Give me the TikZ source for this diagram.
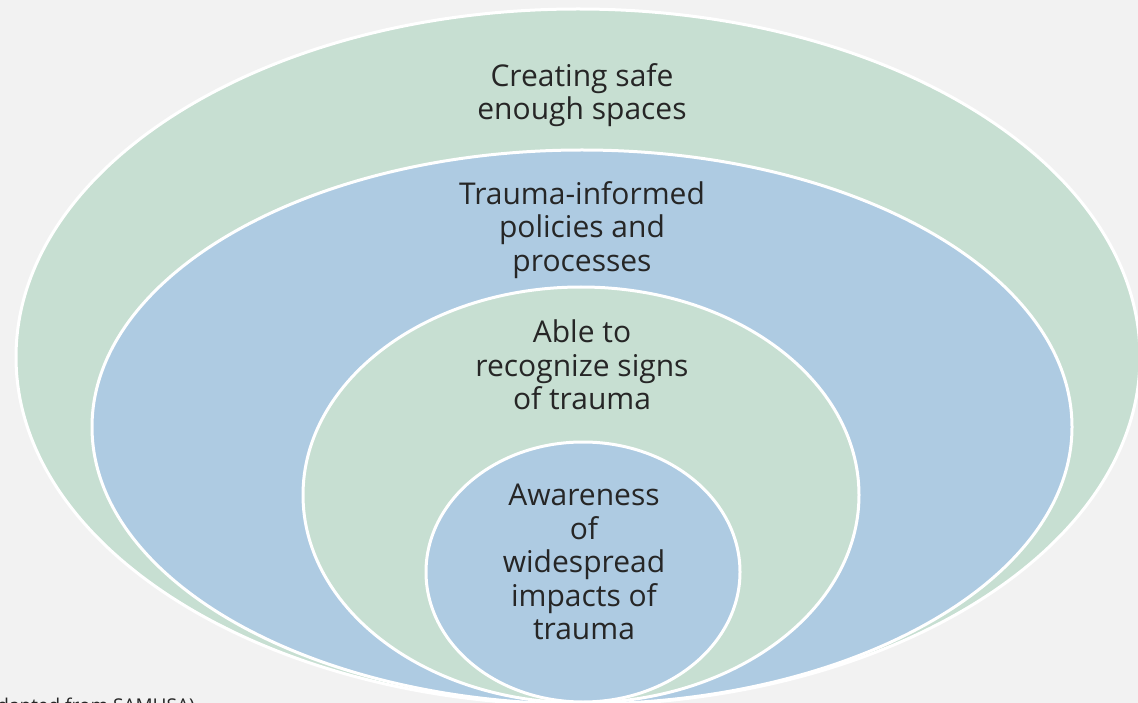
\documentclass[tikz,border=0pt]{standalone}
\usepackage{fontspec}
\setmainfont{Open Sans}
\definecolor{bgGray}{HTML}{F2F2F2}
\definecolor{ringGreen}{HTML}{C7DFD2}
\definecolor{ringBlue}{HTML}{AECBE2}
\begin{document}
\begin{tikzpicture}[x=1pt,y=-1pt,
  ring/.style={draw=white,line width=3pt},
  ringtext/.style={align=center,inner sep=0pt,text=black!85,
    font=\fontsize{30}{33.5}\selectfont}]
\clip (0,0) rectangle (1138,703);
\fill[bgGray] (0,0) rectangle (1138,703);
\coordinate (O1) at (578,357);
\coordinate (O2) at (582,427);
\coordinate (O3) at (581,495);
\coordinate (O4) at (583,572);
\draw [ring,fill=ringGreen] (O1) ellipse [x radius=562, y radius=348];
\draw [ring,fill=ringBlue] (O2) ellipse [x radius=490, y radius=277];
\draw [ring,fill=ringGreen] (O3) ellipse [x radius=278, y radius=208];
\draw [ring,fill=ringBlue] (O4) ellipse [x radius=157, y radius=130];
\node [ringtext] (safe) at (582,95) {Creating safe\\enough spaces};
\node [ringtext] (policies) at (582,230) {Trauma-informed\\policies and\\processes};
\node [ringtext] (signs) at (582,365) {Able to\\recognize signs\\of trauma};
\node [ringtext] (awareness) at (584,562) {Awareness\\of\\widespread\\impacts of\\trauma};
\node [anchor=base east,inner sep=0pt,text=black!85,font=\fontsize{19}{24}\selectfont]
  (source) at (195,712) {(adapted from SAMHSA)};
\end{tikzpicture}
\end{document}
